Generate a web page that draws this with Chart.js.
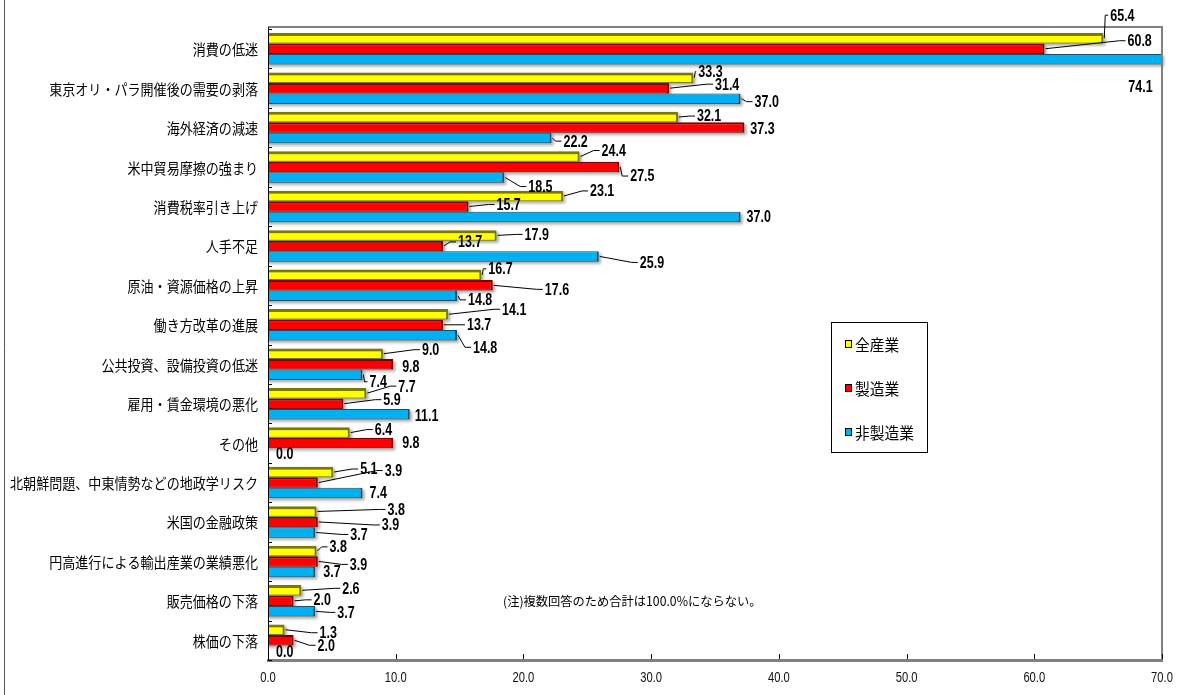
<!DOCTYPE html>
<html>
<head>
<meta charset="utf-8">
<script src="https://cdn.jsdelivr.net/npm/chart.js@4"></script>
<style>
  html, body { margin: 0; padding: 0; background: #fff; }
  canvas { display: block; }
</style>
</head>
<body>
<canvas id="c" width="1177" height="695"></canvas>
<script>
// Survey items (top to bottom)
const categories = [
  '消費の低迷',
  '東京オリ・パラ開催後の需要の剥落',
  '海外経済の減速',
  '米中貿易摩擦の強まり',
  '消費税率引き上げ',
  '人手不足',
  '原油・資源価格の上昇',
  '働き方改革の進展',
  '公共投資、設備投資の低迷',
  '雇用・賃金環境の悪化',
  'その他',
  '北朝鮮問題、中東情勢などの地政学リスク',
  '米国の金融政策',
  '円高進行による輸出産業の業績悪化',
  '販売価格の下落',
  '株価の下落'
];

const seriesNames = ['全産業', '製造業', '非製造業'];

// Share of respondents (%)
const allIndustry      = [65.4, 33.3, 32.1, 24.4, 23.1, 17.9, 16.7, 14.1, 9.0, 7.7, 6.4, 5.1, 3.8, 3.8, 2.6, 1.3];
const manufacturing    = [60.8, 31.4, 37.3, 27.5, 15.7, 13.7, 17.6, 13.7, 9.8, 5.9, 9.8, 3.9, 3.9, 3.9, 2.0, 2.0];
const nonManufacturing = [74.1, 37.0, 22.2, 18.5, 37.0, 25.9, 14.8, 14.8, 7.4, 11.1, 0.0, 7.4, 3.7, 3.7, 3.7, 0.0];

const xTicks = [0, 10, 20, 30, 40, 50, 60, 70];

const noteText = '(注)複数回答のため合計は100.0%にならない。';

const JP_FONT = "'Noto Sans CJK JP', 'Noto Sans', sans-serif";
const NUM_FONT = "'Liberation Sans', Arial, sans-serif";

// Value label placement: [dx, dy] of the text's left/middle from the bar tip
const labelOffsets = [
  [[7,-23],[5,-6],[19,-1],[22,-6],[27,-5],[28,-1],[7,-6],[54,-5],[39,-4],[32,-7],[25,-3],[27,-3],[71,-2],[13,-4],[41,-2],[35,3]],
  [[83,-8],[46,-4],[6,1],[11,9],[28,-2],[15,-4],[52,4],[24,0],[9,2],[40,-4],[9,-1],[67,-12],[64,3],[32,3],[20,-1],[24,5]],
  [[-86,27],[14,3],[12,3],[24,9],[6,0],[41,6],[11,4],[16,12],[7,7],[5,1],[8,0],[7,0],[35,2],[8,0],[22,1],[8,1]]
];

// draw text squeezed horizontally (condensed look)
function narrowText(ctx, text, x, y, sx, align) {
  ctx.save();
  ctx.translate(x, y);
  ctx.scale(sx, 1);
  ctx.textAlign = align;
  ctx.fillText(text, 0, 0);
  ctx.restore();
}

const chartDecor = {
  id: 'chartDecor',
  beforeDatasetsDraw(chart) {
    // soft drop shadow under each bar
    const { ctx, chartArea: a } = chart;
    ctx.save();
    ctx.beginPath();
    ctx.rect(a.left, a.top, a.right - a.left + 4, a.bottom - a.top);
    ctx.clip();
    ctx.filter = 'blur(1.5px)';
    ctx.fillStyle = 'rgba(0,0,0,0.35)';
    chart.data.datasets.forEach((ds, di) => {
      chart.getDatasetMeta(di).data.forEach(el => {
        const p = el.getProps(['x', 'y', 'base', 'height'], true);
        const x1 = Math.min(p.x, a.right);
        if (x1 - p.base < 0.5) return;
        ctx.fillRect(p.base, p.y - p.height / 2 + 2, x1 - p.base + 2, p.height);
      });
    });
    ctx.restore();
  },
  afterDraw(chart, args, opts) {
    const { ctx, chartArea: a } = chart;
    const xs = chart.scales.x;
    const ys = chart.scales.y;
    ctx.save();

    // outer frame line at the far left
    ctx.strokeStyle = '#555';
    ctx.lineWidth = 1;
    ctx.beginPath();
    ctx.moveTo(4.5, 0); ctx.lineTo(4.5, chart.height);
    ctx.stroke();

    // plot frame: top and right edges
    ctx.strokeStyle = '#808080';
    ctx.lineWidth = 2;
    ctx.beginPath();
    ctx.moveTo(a.left, a.top - 2);
    ctx.lineTo(a.right, a.top - 2);
    ctx.lineTo(a.right, a.bottom);
    ctx.stroke();
    ctx.strokeStyle = '#000';
    ctx.lineWidth = 1;
    ctx.beginPath();
    ctx.moveTo(a.left + 0.5, a.top - 2);
    ctx.lineTo(a.left + 0.5, a.bottom);
    ctx.stroke();

    // inward tick marks
    ctx.beginPath();
    xs.ticks.forEach(t => {
      const px = Math.round(xs.getPixelForValue(t.value)) + 0.5;
      ctx.moveTo(px, a.bottom - 1);
      ctx.lineTo(px, a.bottom - 6);
    });
    const n = chart.data.labels.length;
    for (let i = 0; i <= n; i++) {
      const py = Math.round(a.top + i * (a.bottom - a.top) / n) + 0.5;
      ctx.moveTo(a.left, py);
      ctx.lineTo(a.left + 4, py);
    }
    ctx.stroke();

    // axis labels
    ctx.fillStyle = '#111';
    ctx.textBaseline = 'middle';
    ctx.font = '14px ' + NUM_FONT;
    xs.ticks.forEach(t => {
      narrowText(ctx, Number(t.value).toFixed(1), xs.getPixelForValue(t.value), a.bottom + 18, 0.8, 'center');
    });
    ctx.fillStyle = '#000';
    ctx.font = '14.5px ' + JP_FONT;
    chart.data.labels.forEach((lab, i) => {
      narrowText(ctx, lab, a.left - 10, ys.getPixelForTick(i) + 1, 0.9, 'right');
    });

    // value labels with leader lines
    ctx.font = 'bold 16px ' + NUM_FONT;
    chart.data.datasets.forEach((ds, di) => {
      const meta = chart.getDatasetMeta(di);
      meta.data.forEach((el, i) => {
        const p = el.getProps(['x', 'y'], true);
        const off = opts.offsets[di][i];
        const tx = p.x + off[0];
        const ty = p.y + off[1];
        if (off[0] > 0 && (off[0] >= 10 || Math.abs(off[1]) >= 6)) {
          ctx.strokeStyle = '#000';
          ctx.lineWidth = 1;
          ctx.beginPath();
          ctx.moveTo(p.x + 1, p.y);
          const elbow = Math.max(p.x + 2, tx - 8);
          ctx.lineTo(elbow, ty);
          ctx.lineTo(tx - 2, ty);
          ctx.stroke();
        }
        ctx.fillStyle = '#000';
        narrowText(ctx, ds.data[i].toFixed(1), tx, ty + 1, 0.78, 'left');
      });
    });

    // legend box
    const lg = opts.legend;
    ctx.fillStyle = '#fff';
    ctx.fillRect(lg.x, lg.y, lg.w, lg.h);
    ctx.strokeStyle = '#000';
    ctx.lineWidth = 1;
    ctx.strokeRect(lg.x + 0.5, lg.y + 0.5, lg.w, lg.h);
    ctx.font = '15.5px ' + JP_FONT;
    ctx.textAlign = 'left';
    chart.data.datasets.forEach((ds, di) => {
      const cy = lg.y + lg.first + di * lg.step;
      ctx.fillStyle = ds.backgroundColor;
      ctx.fillRect(lg.x + 14, cy - 4, 7, 8);
      ctx.strokeStyle = '#000';
      ctx.strokeRect(lg.x + 14.5, cy - 3.5, 6, 7);
      ctx.fillStyle = '#000';
      narrowText(ctx, ds.label, lg.x + 24, cy + 1, 0.95, 'left');
    });

    // footnote
    ctx.font = '12.5px ' + JP_FONT;
    ctx.fillStyle = '#000';
    narrowText(ctx, noteText, opts.note.x, opts.note.y, 0.98, 'left');

    ctx.restore();
  }
};

new Chart(document.getElementById('c'), {
  type: 'bar',
  data: {
    labels: categories,
    datasets: [
      {
        label: seriesNames[0], data: allIndustry,
        backgroundColor: '#FFFF00', borderColor: '#7A7A00',
        borderWidth: { top: 3, right: 2, bottom: 1, left: 0 }
      },
      {
        label: seriesNames[1], data: manufacturing,
        backgroundColor: '#FF0000', borderColor: '#7A0000',
        borderWidth: { top: 2, right: 2, bottom: 1, left: 0 }
      },
      {
        label: seriesNames[2], data: nonManufacturing,
        backgroundColor: '#00B0F0', borderColor: '#1B4F66',
        borderWidth: { top: 1, right: 2, bottom: 1, left: 0 }
      }
    ]
  },
  options: {
    indexAxis: 'y',
    responsive: false,
    animation: false,
    devicePixelRatio: 1,
    layout: { padding: { left: 0, right: 15, top: 29, bottom: 0 } },
    datasets: { bar: { categoryPercentage: 0.8, barPercentage: 1.0, borderSkipped: 'start' } },
    scales: {
      x: {
        min: 0, max: 70,
        afterBuildTicks(s) { s.ticks = xTicks.map(v => ({ value: v })); },
        afterFit(s) { s.height = 35; },
        grid: { display: false, drawTicks: false },
        border: { display: true, color: '#808080', width: 3 },
        ticks: { display: false }
      },
      y: {
        afterFit(s) { s.width = 268; },
        grid: { display: false, drawTicks: false },
        border: { display: false },
        ticks: { display: false, autoSkip: false }
      }
    },
    plugins: {
      legend: { display: false },
      tooltip: { enabled: false },
      chartDecor: {
        offsets: labelOffsets,
        legend: { x: 831, y: 322, w: 96, h: 130, first: 22, step: 44 },
        note: { x: 503, y: 601 }
      }
    }
  },
  plugins: [chartDecor]
});
</script>
</body>
</html>
